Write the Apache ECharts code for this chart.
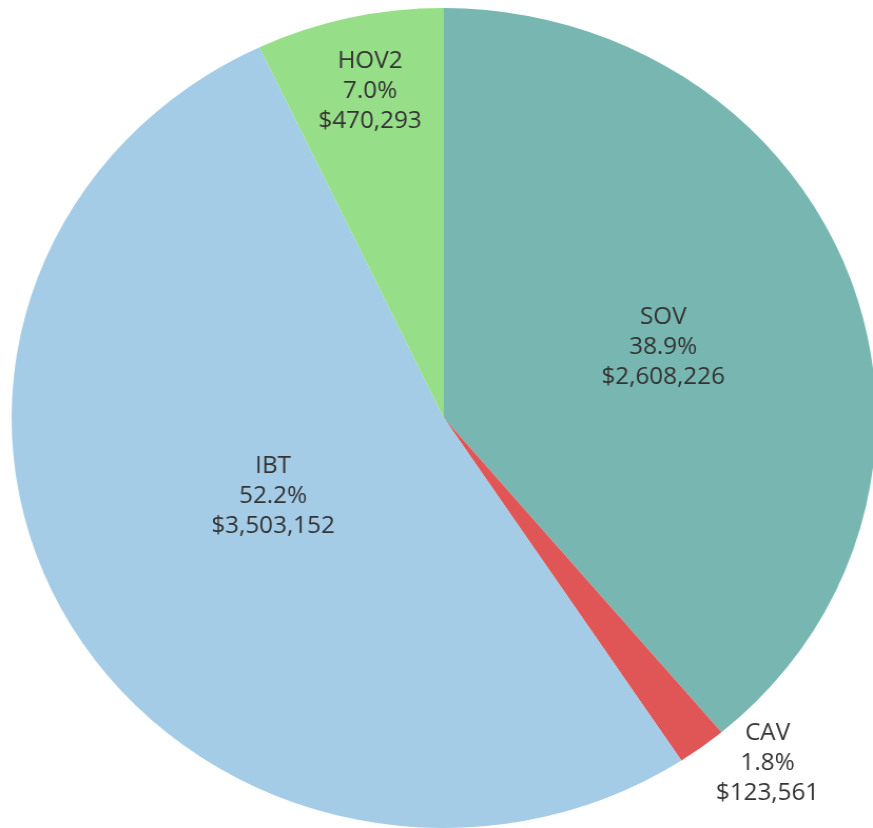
<!DOCTYPE html>
<html>
<head>
<meta charset="utf-8">
<script src="https://cdn.jsdelivr.net/npm/echarts@6/dist/echarts.min.js"></script>
<style>
    html, body { margin: 0; padding: 0; background: #fff; overflow: hidden; }
    /* the reference is a square chart stretched a little in width */
    #pie { width: 828px; height: 828px; transform: scaleX(1.0543); transform-origin: 0 0; }
</style>
</head>
<body>
<div id="pie"></div>
<script>
// 数据
var modes = ['SOV', 'CAV', 'IBT', 'HOV2'];
var costs = [2608226, 123561, 3503152, 470293];
var colors = ['#78b7b1', '#e05656', '#a4cce6', '#96de88'];

// 标签位置 (square space, centre of the text block)
var labelPos = [[629, 347], [728, 763], [259, 496], [351, 91]];

var total = costs.reduce(function(a, b) { return a + b; }, 0);

var chart = echarts.init(document.getElementById('pie'));

var seriesData = modes.map(function(m, i) {
    return { name: m, value: costs[i], itemStyle: { color: colors[i] } };
});

chart.setOption({
    animation: false,
    series: [{
        type: 'pie',
        center: [421, 418],
        radius: 410,
        startAngle: 90,
        clockwise: true,
        data: seriesData,
        itemStyle: { borderWidth: 0 },
        labelLine: { show: false },
        label: {
            show: true,
            position: 'inside',
            align: 'center',
            verticalAlign: 'middle',
            color: '#333',
            fontFamily: 'Open Sans',
            fontSize: 23,
            lineHeight: 30,
            formatter: function(p) {
                // 自己算百分比, echarts 的取整会把 IBT 变成 52.3
                return p.name + '\n' + (p.value / total * 100).toFixed(1) + '%\n$' + p.value.toLocaleString('en-US');
            }
        },
        labelLayout: function(params) {
            var pos = labelPos[params.dataIndex];
            return { x: pos[0], y: pos[1] };
        }
    }]
});
</script>
</body>
</html>
